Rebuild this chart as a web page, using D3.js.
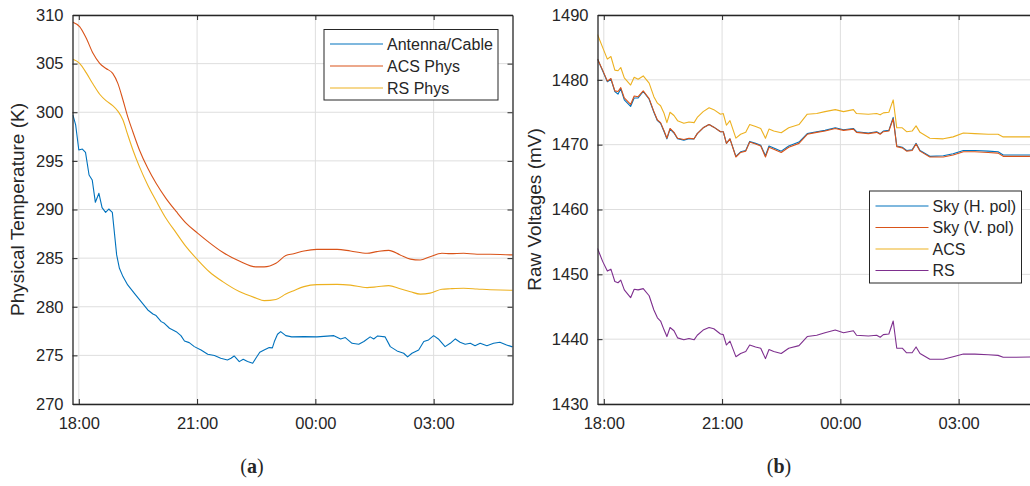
<!DOCTYPE html>
<html>
<head>
<meta charset="utf-8">
<script src="https://cdn.jsdelivr.net/npm/d3@7"></script>
<style>
  html, body { margin: 0; padding: 0; background: #fff; }
  svg { display: block; }
  text { font-family: "Liberation Sans", Arial, sans-serif; fill: #262626; }
</style>
</head>
<body>
<svg id="chart" width="1030" height="486"></svg>
<script>
// ---- shared time axis (hours; values above 24 fall on the next day) ----
const hourTicks = [18, 21, 24, 27];
const hourTickLabels = ["18:00", "21:00", "00:00", "03:00"];
const hourDomain = [17.84, 29.0];

// ---- panel (a): physical temperatures (K) ----
const tempTicks = [270, 275, 280, 285, 290, 295, 300, 305, 310];
const physNames = ["Antenna/Cable", "ACS Phys", "RS Phys"];

const antennaTime = [17.85, 17.92, 18.0, 18.09, 18.17, 18.26, 18.34, 18.42, 18.51, 18.59,
  18.68, 18.76, 18.85, 18.9, 18.96, 19.03, 19.12, 19.24, 19.41, 19.58,
  19.75, 19.88, 19.96, 20.09, 20.17, 20.30, 20.47, 20.59, 20.68, 20.80,
  20.93, 21.10, 21.27, 21.44, 21.60, 21.77, 21.86, 21.94, 22.07, 22.17,
  22.28, 22.41, 22.49, 22.59, 22.70, 22.83, 22.91, 22.96, 23.04, 23.12,
  23.25, 23.40, 23.71, 24.04, 24.47, 24.64, 24.76, 24.93, 25.10, 25.23,
  25.39, 25.48, 25.58, 25.77, 25.90, 26.07, 26.24, 26.34, 26.45, 26.62,
  26.75, 26.87, 27.0, 27.12, 27.29, 27.42, 27.55, 27.67, 27.80, 27.93,
  28.05, 28.18, 28.35, 28.52, 28.68, 28.85, 28.98, 29.1];
const antennaTemp = [299.72, 298.7, 296.12, 296.22, 295.88, 293.55, 293.04, 290.74, 291.67, 290.2,
  289.71, 290.05, 289.71, 287.72, 285.33, 283.95, 283.1, 282.24, 281.38, 280.53,
  279.67, 279.26, 279.09, 278.47, 278.3, 277.79, 277.44, 277.03, 276.48, 276.31,
  275.9, 275.56, 275.11, 274.98, 274.7, 274.53, 274.7, 274.94, 274.36, 274.6,
  274.36, 274.19, 274.7, 275.32, 275.56, 275.8, 275.77, 276.42, 277.17, 277.44,
  277.03, 276.9, 276.93, 276.9, 277.03, 276.69, 276.83, 276.24, 276.14, 276.42,
  276.9, 276.69, 277.0, 276.9, 275.9, 275.46, 275.22, 274.84, 275.22, 275.56,
  276.42, 276.59, 277.03, 276.69, 275.9, 276.24, 276.69, 276.35, 276.14, 276.24,
  276.0, 276.24, 276.0, 276.24, 276.35, 276.07, 275.9, 275.9];

const physTime = [17.85, 18.02, 18.19, 18.36, 18.53, 18.69, 18.86, 18.99, 19.12, 19.24,
  19.37, 19.54, 19.75, 19.96, 20.21, 20.47, 20.72, 21.02, 21.31, 21.65,
  22.07, 22.49, 22.70, 23.0, 23.25, 23.45, 23.71, 24.04, 24.55, 24.89,
  25.31, 25.56, 25.86, 26.15, 26.41, 26.66, 26.91, 27.21, 27.42, 27.76,
  28.10, 28.43, 28.94, 29.1];
const acsPhysTemp = [309.25, 308.8, 307.6, 306.06, 305.03, 304.5, 304.0, 302.97, 301.26, 299.55,
  298.0, 296.1, 294.24, 292.7, 291.15, 289.8, 288.6, 287.55, 286.6, 285.6,
  284.7, 284.1, 284.1, 284.47, 285.26, 285.45, 285.74, 285.9, 285.9, 285.74,
  285.5, 285.67, 285.8, 285.33, 284.9, 284.8, 285.15, 285.5, 285.46, 285.5,
  285.4, 285.4, 285.33, 285.33];
const rsPhysTemp = [305.44, 305.03, 304.05, 302.9, 301.85, 301.19, 300.68, 300.12, 299.2, 297.7,
  296.15, 294.38, 292.5, 290.9, 289.1, 287.6, 286.18, 284.8, 283.6, 282.58,
  281.56, 280.9, 280.63, 280.75, 281.3, 281.65, 282.07, 282.28, 282.3, 282.22,
  281.97, 282.05, 282.17, 281.85, 281.55, 281.3, 281.4, 281.8, 281.85, 281.9,
  281.83, 281.75, 281.7, 281.7];

// ---- panel (b): raw radiometer voltages (mV) ----
const voltTicks = [1430, 1440, 1450, 1460, 1470, 1480, 1490];
const voltNames = ["Sky (H. pol)", "Sky (V. pol)", "ACS", "RS"];
const voltTime = [17.84, 17.97, 18.09, 18.18, 18.28, 18.36, 18.43, 18.52, 18.68, 18.77,
  18.87, 19.0, 19.15, 19.27, 19.36, 19.44, 19.53, 19.6, 19.68, 19.78,
  19.87, 20.03, 20.16, 20.29, 20.37, 20.52, 20.67, 20.79, 20.96, 21.03,
  21.11, 21.2, 21.35, 21.47, 21.6, 21.7, 21.85, 21.98, 22.1, 22.19,
  22.31, 22.5, 22.69, 22.95, 23.16, 23.4, 23.61, 23.87, 24.08, 24.33,
  24.41, 24.71, 24.92, 25.01, 25.09, 25.23, 25.34, 25.43, 25.57, 25.68,
  25.82, 25.92, 26.02, 26.27, 26.61, 26.86, 27.12, 27.41, 27.75, 28.0,
  28.13, 28.42, 28.8, 29.1];
const skyHVolt = [1483.2, 1481.4, 1479.7, 1480.1, 1478.2, 1477.8, 1478.6, 1476.9, 1475.9, 1477.2,
  1477.2, 1478.2, 1477.0, 1475.0, 1473.7, 1473.3, 1472.0, 1470.9, 1472.4, 1471.8,
  1470.9, 1470.7, 1470.9, 1470.9, 1471.7, 1472.6, 1473.1, 1472.7, 1472.0, 1472.0,
  1470.2, 1470.9, 1468.2, 1468.9, 1469.1, 1470.5, 1470.2, 1469.9, 1468.3, 1469.8,
  1469.5, 1469.0, 1469.8, 1470.4, 1471.7, 1472.0, 1472.2, 1472.6, 1472.3, 1472.5,
  1472.0, 1471.8, 1472.0, 1471.7, 1472.1, 1472.2, 1474.2, 1469.8, 1469.6, 1469.1,
  1469.2, 1470.2, 1469.1, 1468.2, 1468.3, 1468.6, 1469.1, 1469.1, 1469.0, 1468.9,
  1468.4, 1468.4, 1468.4, 1468.4];
const skyVVolt = [1483.2, 1481.5, 1479.8, 1480.2, 1478.3, 1478.2, 1478.8, 1477.2, 1476.2, 1477.5,
  1477.4, 1478.3, 1477.1, 1475.1, 1473.8, 1473.4, 1472.1, 1471.0, 1472.5, 1471.9,
  1471.0, 1470.8, 1471.0, 1470.9, 1471.7, 1472.6, 1473.1, 1472.7, 1472.0, 1472.0,
  1470.2, 1470.9, 1468.1, 1468.8, 1469.0, 1470.4, 1470.1, 1469.8, 1468.1, 1469.6,
  1469.3, 1468.8, 1469.6, 1470.2, 1471.6, 1471.9, 1472.1, 1472.5, 1472.2, 1472.4,
  1471.9, 1471.7, 1471.9, 1471.6, 1472.0, 1472.1, 1474.0, 1469.7, 1469.5, 1469.0,
  1469.1, 1470.1, 1469.0, 1468.1, 1468.1, 1468.4, 1468.9, 1468.9, 1468.8, 1468.7,
  1468.2, 1468.2, 1468.2, 1468.3];
const acsVolt = [1487.0, 1485.0, 1483.2, 1483.6, 1481.5, 1481.4, 1481.9, 1480.3, 1479.2, 1480.4,
  1480.1, 1480.6, 1479.5, 1477.4, 1476.4, 1476.0, 1474.8, 1473.4, 1475.0, 1474.5,
  1473.7, 1473.3, 1473.5, 1473.4, 1474.2, 1475.1, 1475.7, 1475.4, 1474.7, 1474.8,
  1473.0, 1473.7, 1471.0, 1471.6, 1471.9, 1473.1, 1472.8, 1472.5, 1471.0, 1472.4,
  1472.1, 1471.85, 1472.6, 1473.1, 1474.7, 1474.8, 1475.1, 1475.4, 1475.1, 1475.4,
  1474.8, 1474.7, 1474.8, 1474.6, 1474.9, 1475.0, 1476.9, 1472.6, 1472.6, 1472.0,
  1472.1, 1472.9, 1471.9, 1471.0, 1470.9, 1471.2, 1471.8, 1471.7, 1471.6, 1471.6,
  1471.2, 1471.2, 1471.2, 1471.3];
const rsVolt = [1454.0, 1452.0, 1450.5, 1450.8, 1448.9, 1448.7, 1449.1, 1447.6, 1446.4, 1447.7,
  1447.6, 1447.8, 1446.7, 1444.5, 1443.3, 1442.8, 1441.4, 1440.4, 1441.8, 1441.3,
  1440.2, 1439.9, 1440.1, 1439.9, 1440.6, 1441.4, 1441.8, 1441.6, 1440.8, 1440.7,
  1439.1, 1439.7, 1437.3, 1437.8, 1438.1, 1439.1, 1438.8, 1438.6, 1437.0, 1438.4,
  1438.1, 1437.8, 1438.6, 1439.0, 1440.4, 1440.6, 1441.0, 1441.4, 1441.0, 1441.3,
  1440.6, 1440.5, 1440.6, 1440.3, 1440.7, 1440.8, 1442.8, 1438.6, 1438.6, 1437.9,
  1437.9, 1438.8, 1437.8, 1436.9, 1436.9, 1437.3, 1437.7, 1437.7, 1437.6, 1437.5,
  1437.2, 1437.2, 1437.25, 1437.3];

// MATLAB default line colours
const colors = ["#0072BD", "#D95319", "#EDB120", "#7E2F8E"];
const ink = "#262626";

const svg = d3.select("#chart");
const zip = (xs, ys) => xs.map((x, i) => [x, ys[i]]);

function drawPanel(cfg) {
  const { id, left, right, top, bottom } = cfg;
  const x = d3.scaleLinear().domain(hourDomain).range([left, right]);
  const y = d3.scaleLinear().domain(cfg.yDomain).range([bottom, top]);
  const g = svg.append("g");

  g.append("clipPath").attr("id", "clip-" + id)
    .append("rect").attr("x", left).attr("y", top)
    .attr("width", right - left).attr("height", bottom - top);

  // grid
  g.append("g").selectAll("line").data(hourTicks).join("line")
    .attr("x1", d => x(d)).attr("x2", d => x(d))
    .attr("y1", top).attr("y2", bottom)
    .attr("stroke", "#dedede").attr("stroke-width", 1);
  g.append("g").selectAll("line").data(cfg.yTicks).join("line")
    .attr("x1", left).attr("x2", right)
    .attr("y1", d => y(d)).attr("y2", d => y(d))
    .attr("stroke", "#dedede").attr("stroke-width", 1);

  // series
  const plot = g.append("g").attr("clip-path", `url(#clip-${id})`);
  cfg.series.forEach(s => {
    const line = d3.line().x(d => x(d[0])).y(d => y(d[1])).curve(s.curve || d3.curveLinear);
    plot.append("path").datum(s.points)
      .attr("fill", "none").attr("stroke", s.color)
      .attr("stroke-width", 1.1).attr("stroke-linejoin", "round")
      .attr("d", line);
  });

  // axes (box with inward ticks on all sides)
  const tickLen = 5;
  const bottomAxis = d3.axisBottom(x).tickValues(hourTicks)
    .tickFormat((d, i) => hourTickLabels[i]).tickSizeInner(-tickLen).tickSizeOuter(0).tickPadding(13);
  const topAxis = d3.axisTop(x).tickValues(hourTicks).tickFormat("").tickSizeInner(-tickLen).tickSizeOuter(0);
  const leftAxis = d3.axisLeft(y).tickValues(cfg.yTicks).tickFormat(d3.format("d"))
    .tickSizeInner(-tickLen).tickSizeOuter(0).tickPadding(9);
  const rightAxis = d3.axisRight(y).tickValues(cfg.yTicks).tickFormat("").tickSizeInner(-tickLen).tickSizeOuter(0);

  const styleAxis = sel => {
    sel.selectAll("path").attr("stroke", ink).attr("stroke-width", 1.3);
    sel.selectAll("line").attr("stroke", ink).attr("stroke-width", 1);
    sel.selectAll("text").attr("fill", ink).style("font-size", "16.5px")
      .style("font-family", '"Liberation Sans", Arial, sans-serif');
  };
  g.append("g").attr("transform", `translate(0,${bottom})`).call(bottomAxis).call(styleAxis);
  g.append("g").attr("transform", `translate(0,${top})`).call(topAxis).call(styleAxis);
  g.append("g").attr("transform", `translate(${left},0)`).call(leftAxis).call(styleAxis);
  g.append("g").attr("transform", `translate(${right},0)`).call(rightAxis).call(styleAxis);

  // y-axis title
  g.append("text")
    .attr("transform", `translate(${cfg.titleX},${(top + bottom) / 2}) rotate(-90)`)
    .attr("text-anchor", "middle")
    .style("font-size", "19px")
    .text(cfg.yTitle);

  // legend
  const L = cfg.legend;
  const lg = g.append("g");
  lg.append("rect").attr("x", L.x).attr("y", L.y).attr("width", L.w).attr("height", L.h)
    .attr("fill", "#fff").attr("stroke", ink).attr("stroke-width", 1);
  cfg.series.slice().sort((a, b) => a.order - b.order).forEach((s, i) => {
    const cy = L.y + L.first + i * L.step;
    lg.append("line").attr("x1", L.x + 6).attr("x2", L.x + 59)
      .attr("y1", cy).attr("y2", cy).attr("stroke", s.color).attr("stroke-width", 1.1);
    lg.append("text").attr("x", L.x + 63).attr("y", cy).attr("dy", "0.36em")
      .style("font-size", "16px").text(s.name);
  });

  // panel caption
  const cap = g.append("text").attr("x", cfg.captionX).attr("y", 473)
    .attr("text-anchor", "middle")
    .style("font-family", '"Liberation Serif", "Times New Roman", serif')
    .style("font-size", "20px");
  cap.append("tspan").text("(");
  cap.append("tspan").style("font-weight", "bold").text(cfg.caption);
  cap.append("tspan").text(")");
}

drawPanel({
  id: "a", left: 72.5, right: 512.5, top: 15, bottom: 404,
  yDomain: [270, 310], yTicks: tempTicks,
  yTitle: "Physical Temperature (K)", titleX: 24,
  caption: "a", captionX: 252,
  series: [
    { name: physNames[0], color: colors[0], order: 0, points: zip(antennaTime, antennaTemp) },
    { name: physNames[1], color: colors[1], order: 1, points: zip(physTime, acsPhysTemp), curve: d3.curveMonotoneX },
    { name: physNames[2], color: colors[2], order: 2, points: zip(physTime, rsPhysTemp), curve: d3.curveMonotoneX }
  ],
  legend: { x: 324, y: 29.5, w: 174, h: 70.5, first: 14.5, step: 22 }
});

drawPanel({
  id: "b", left: 597.5, right: 1037.5, top: 15, bottom: 404,
  yDomain: [1430, 1490], yTicks: voltTicks,
  yTitle: "Raw Voltages (mV)", titleX: 541,
  caption: "b", captionX: 779,
  series: [
    { name: voltNames[3], color: colors[3], order: 3, points: zip(voltTime, rsVolt) },
    { name: voltNames[2], color: colors[2], order: 2, points: zip(voltTime, acsVolt) },
    { name: voltNames[0], color: colors[0], order: 0, points: zip(voltTime, skyHVolt) },
    { name: voltNames[1], color: colors[1], order: 1, points: zip(voltTime, skyVVolt) }
  ],
  legend: { x: 869.5, y: 191, w: 152, h: 92, first: 15, step: 21.5 }
});
</script>
</body>
</html>
